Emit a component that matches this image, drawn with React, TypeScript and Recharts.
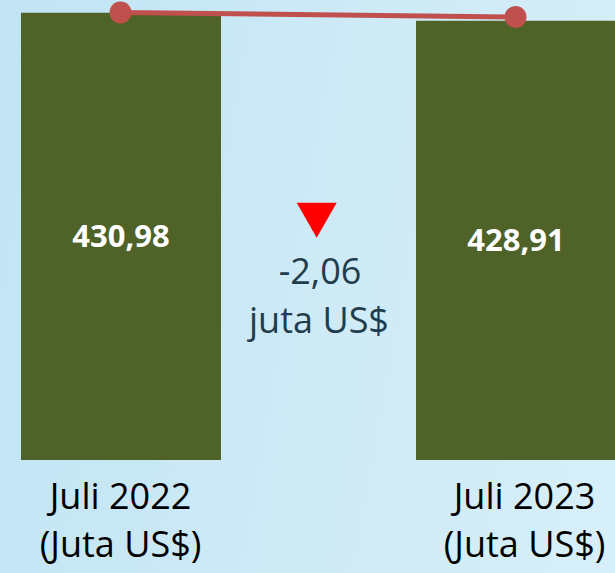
import React from 'react';
import { ComposedChart, Bar, Line, XAxis, YAxis, LabelList } from 'recharts';

const categories = ['Juli 2022', 'Juli 2023'];
const unitLabels = ['(Juta US$)', '(Juta US$)'];
const exportValues = [430.98, 428.91];
const trendValues = [430.98, 428.91];
const changeText = '-2,06';
const changeUnit = 'juta US$';

const data = categories.map((c, i) => ({
  name: c,
  unit: unitLabels[i],
  value: exportValues[i],
  trend: trendValues[i],
}));

const FONT = '"Open Sans", "Noto Sans", sans-serif';

const fmt = (v: number) => v.toFixed(2).replace('.', ',');

const Tick = (props: any) => {
  const { x, y, payload, index } = props;
  const shift = index === 1 ? 9 : 0;
  const unit = unitLabels[index] ?? '';
  return (
    <g transform={`translate(${x + shift},${y})`}>
      <text x={0} y={49} textAnchor="middle" fontFamily={FONT} fontSize={36} fill="#000">
        {payload.value}
      </text>
      <text x={0} y={97} textAnchor="middle" fontFamily={FONT} fontSize={36} fill="#000">
        {unit}
      </text>
    </g>
  );
};

export default function App() {
  return (
    <div
      style={{
        position: 'absolute',
        left: 0,
        top: 0,
        width: 615,
        height: 573,
        overflow: 'hidden',
        background: 'linear-gradient(100deg, #c1e4f4 0%, #cdeaf6 50%, #d7eff8 100%)',
      }}
    >
      <div style={{ position: 'absolute', left: -77.5, top: 0 }}>
        <ComposedChart width={790} height={573} data={data} margin={{ top: 10, right: 0, bottom: 0, left: 0 }}>
          <XAxis
            dataKey="name"
            height={113}
            axisLine={false}
            tickLine={false}
            tickSize={0}
            tickMargin={0}
            interval={0}
            tick={<Tick />}
          />
          <YAxis yAxisId="bar" hide domain={[315, 431.7]} />
          <YAxis yAxisId="line" hide domain={[225.2, 432.1]} orientation="right" />
          <Bar yAxisId="bar" dataKey="value" fill="#4F6228" barSize={200} isAnimationActive={false}>
            <LabelList
              dataKey="value"
              position="center"
              formatter={(v: any) => fmt(Number(v))}
              fill="#ffffff"
              fontSize={31}
              fontWeight="bold"
              fontFamily={FONT}
            />
          </Bar>
          <Line
            yAxisId="line"
            dataKey="trend"
            stroke="#C0504D"
            strokeWidth={5}
            dot={{ r: 11, fill: '#C0504D', stroke: '#C0504D', strokeWidth: 0 }}
            activeDot={false}
            isAnimationActive={false}
          />
        </ComposedChart>
      </div>
      <svg width={615} height={573} style={{ position: 'absolute', left: 0, top: 0, pointerEvents: 'none' }}>
        <polygon points="296.7,202.7 336.7,202.7 316.7,237.7" fill="#FF0000" />
        <text x={320} y={284} textAnchor="middle" fontFamily={FONT} fontSize={36} fill="#1F3D4C">
          {changeText}
        </text>
        <text x={319} y={333} textAnchor="middle" fontFamily={FONT} fontSize={36} fill="#1F3D4C">
          {changeUnit}
        </text>
      </svg>
    </div>
  );
}
